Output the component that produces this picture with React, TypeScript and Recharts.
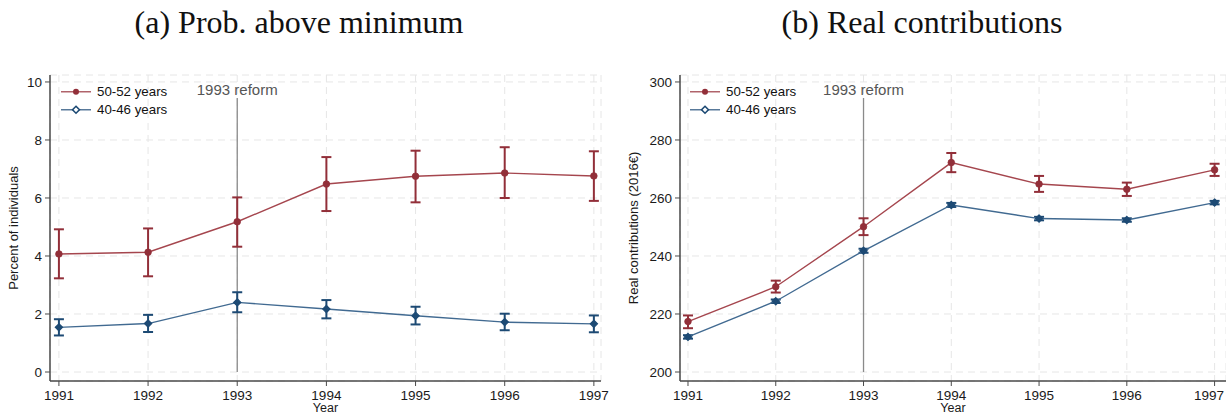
import React from 'react'
import {
  LineChart,
  Line,
  XAxis,
  YAxis,
  CartesianGrid,
  ErrorBar,
  ReferenceLine,
} from 'recharts'

const YEARS = [1991, 1992, 1993, 1994, 1995, 1996, 1997]

// (a) share of individuals contributing above the minimum, %
const PROB_OLD = [4.07, 4.13, 5.18, 6.48, 6.75, 6.86, 6.76]
const PROB_OLD_LO = [3.23, 3.3, 4.32, 5.55, 5.85, 6.0, 5.9]
const PROB_OLD_HI = [4.92, 4.95, 6.02, 7.41, 7.63, 7.75, 7.61]
const PROB_YOUNG = [1.54, 1.67, 2.4, 2.17, 1.94, 1.72, 1.66]
const PROB_YOUNG_LO = [1.26, 1.38, 2.06, 1.85, 1.64, 1.44, 1.37]
const PROB_YOUNG_HI = [1.82, 1.97, 2.75, 2.48, 2.25, 2.01, 1.95]

// (b) real contributions, 2016 euros
const CONTRIB_OLD = [217.4, 229.4, 250.1, 272.2, 264.8, 263.0, 269.7]
const CONTRIB_OLD_LO = [215.1, 227.4, 247.2, 268.9, 262.1, 260.7, 267.6]
const CONTRIB_OLD_HI = [219.5, 231.5, 253.0, 275.5, 267.6, 265.3, 271.8]
const CONTRIB_YOUNG = [212.1, 224.4, 241.8, 257.6, 252.9, 252.4, 258.4]
const CONTRIB_YOUNG_LO = [211.5, 223.8, 241.1, 256.9, 252.3, 251.8, 257.8]
const CONTRIB_YOUNG_HI = [212.7, 225.0, 242.5, 258.3, 253.5, 253.0, 259.0]

const PROB_TICKS = [0, 2, 4, 6, 8, 10]
const CONTRIB_TICKS = [200, 220, 240, 260, 280, 300]

const SERIES_LABELS = ['50-52 years', '40-46 years']

const RED_LINE = '#a5464e'
const RED_MARK = '#922f39'
const BLUE_LINE = '#416a91'
const BLUE_MARK = '#1d4a74'
const AXIS = '#4a4a4a'
const SANS = '"Liberation Sans", Arial, sans-serif'
const CHART_W = 613

function buildRows(
  old: number[], oldLo: number[], oldHi: number[],
  young: number[], youngLo: number[], youngHi: number[],
) {
  return YEARS.map((year, i) => ({
    year,
    old: old[i],
    oldErr: [old[i] - oldLo[i], oldHi[i] - old[i]],
    young: young[i],
    youngErr: [young[i] - youngLo[i], youngHi[i] - young[i]],
  }))
}

const probRows = buildRows(PROB_OLD, PROB_OLD_LO, PROB_OLD_HI, PROB_YOUNG, PROB_YOUNG_LO, PROB_YOUNG_HI)
const contribRows = buildRows(
  CONTRIB_OLD, CONTRIB_OLD_LO, CONTRIB_OLD_HI,
  CONTRIB_YOUNG, CONTRIB_YOUNG_LO, CONTRIB_YOUNG_HI,
)

function Diamond(props: any) {
  const { cx, cy } = props
  if (cx == null || cy == null) return null
  const r = 3.6
  return (
    <polygon
      points={`${cx},${cy - r} ${cx + r},${cy} ${cx},${cy + r} ${cx - r},${cy}`}
      fill={BLUE_MARK}
      stroke={BLUE_MARK}
      strokeWidth={1.2}
    />
  )
}

function Dot(props: any) {
  const { cx, cy } = props
  if (cx == null || cy == null) return null
  return <circle cx={cx} cy={cy} r={3.3} fill={RED_MARK} stroke={RED_MARK} strokeWidth={0.8} />
}

// year labels; the last one is nudged so it stays inside the svg
function YearTick(props: any) {
  const { x, y, payload } = props
  const tx = Math.min(x, CHART_W - 17)
  return (
    <text x={tx} y={y + 11} textAnchor="middle" fontFamily={SANS} fontSize={13.5} fill="#1a1a1a">
      {payload.value}
    </text>
  )
}

// legend drawn in the top-left corner of each plot region
function LegendRows({ left }: { left: number }) {
  const row = (label: string, color: string, mark: React.ReactNode) => (
    <div style={{ display: 'flex', alignItems: 'center', height: 17.5 }}>
      <svg width={37} height={17.5}>
        <line x1={1} x2={31} y1={8.75} y2={8.75} stroke={color} strokeWidth={1.5} />
        {mark}
      </svg>
      <span style={{ fontFamily: SANS, fontSize: 13.3, color: '#111', lineHeight: '17.5px' }}>{label}</span>
    </div>
  )
  return (
    <div style={{ position: 'absolute', left, top: 83 }}>
      {row(SERIES_LABELS[0], '#b0636a', <circle cx={16} cy={8.75} r={3} fill={RED_MARK} />)}
      {row(
        SERIES_LABELS[1],
        '#58799a',
        <polygon points="16,5.3 19.45,8.75 16,12.2 12.55,8.75" fill="#fff" stroke={BLUE_MARK} strokeWidth={1.6} />,
      )}
    </div>
  )
}

interface PanelProps {
  rows: ReturnType<typeof buildRows>
  yDomain: [number, number]
  yTicks: number[]
  xDomain: [number, number]
  yTitle: string
  yAxisWidth: number
  titleX: number
  rightMargin: number
  reformTop: number
}

function Panel({
  rows, yDomain, yTicks, xDomain, yTitle, yAxisWidth, titleX, rightMargin, reformTop,
}: PanelProps) {
  const tickStyle = { fill: '#1a1a1a', fontSize: 13.5, fontFamily: SANS }
  return (
    <LineChart
      width={CHART_W}
      height={415}
      data={rows}
      margin={{ top: 75, right: rightMargin, bottom: 0, left: 0 }}
    >
      <CartesianGrid stroke="#e6e6e6" strokeDasharray="7 5" />
      <XAxis
        dataKey="year"
        type="number"
        domain={xDomain}
        ticks={YEARS}
        allowDataOverflow
        height={34}
        tick={<YearTick />}
        tickSize={5}
        tickMargin={3}
        axisLine={{ stroke: AXIS, strokeWidth: 1.5 }}
        tickLine={{ stroke: AXIS }}
        label={(p: any) => {
          const vb = p.viewBox
          return (
            <text x={vb.x + vb.width / 2} y={412} textAnchor="middle" fontFamily={SANS} fontSize={12.5} fill="#1a1a1a">
              Year
            </text>
          )
        }}
      />
      <YAxis
        type="number"
        domain={yDomain}
        ticks={yTicks}
        allowDataOverflow
        interval={0}
        width={yAxisWidth}
        tick={tickStyle}
        tickSize={5}
        tickMargin={3}
        axisLine={{ stroke: AXIS, strokeWidth: 1.5 }}
        tickLine={{ stroke: AXIS }}
        label={() => {
          const cy = 75 + 306 / 2
          return (
            <text
              x={titleX}
              y={cy}
              transform={`rotate(-90, ${titleX}, ${cy})`}
              textAnchor="middle"
              dominantBaseline="central"
              fontFamily={SANS}
              fontSize={13}
              fill="#1a1a1a"
            >
              {yTitle}
            </text>
          )
        }}
      />
      <ReferenceLine
        segment={[{ x: 1993, y: yTicks[0] }, { x: 1993, y: reformTop }]}
        stroke="#8a8a8a"
        strokeWidth={1.3}
        label={{ value: '1993 reform', position: 'top', offset: 3, fill: '#555', fontSize: 15, fontFamily: SANS }}
      />
      <Line
        dataKey="old"
        name={SERIES_LABELS[0]}
        type="linear"
        stroke={RED_LINE}
        strokeWidth={1.4}
        dot={<Dot />}
        activeDot={false}
        isAnimationActive={false}
      >
        <ErrorBar dataKey="oldErr" width={5} stroke={RED_MARK} strokeWidth={2} direction="y" isAnimationActive={false} />
      </Line>
      <Line
        dataKey="young"
        name={SERIES_LABELS[1]}
        type="linear"
        stroke={BLUE_LINE}
        strokeWidth={1.4}
        dot={<Diamond />}
        activeDot={false}
        isAnimationActive={false}
      >
        <ErrorBar dataKey="youngErr" width={5} stroke={BLUE_MARK} strokeWidth={2} direction="y" isAnimationActive={false} />
      </Line>
    </LineChart>
  )
}

const titleStyle: React.CSSProperties = {
  position: 'absolute',
  top: 3,
  transform: 'translateX(-50%)',
  whiteSpace: 'nowrap',
  fontFamily: '"Liberation Serif", "Times New Roman", serif',
  fontSize: 32,
  lineHeight: '38px',
  color: '#111',
}

export default function App() {
  return (
    <div style={{ position: 'absolute', left: 0, top: 0, width: 1226, height: 415, background: '#fff', overflow: 'hidden' }}>
      <div style={{ ...titleStyle, left: 299 }}>(a) Prob. above minimum</div>
      <div style={{ ...titleStyle, left: 922 }}>(b) Real contributions</div>
      <div style={{ position: 'absolute', left: 0, top: 0 }}>
        <Panel
          rows={probRows}
          yDomain={[-0.31, 10.24]}
          yTicks={PROB_TICKS}
          xDomain={[1990.9, 1997.08]}
          yTitle="Percent of individuals"
          yAxisWidth={50}
          titleX={13}
          rightMargin={12}
          reformTop={9.45}
        />
        <LegendRows left={60} />
      </div>
      <div style={{ position: 'absolute', left: 613, top: 0 }}>
        <Panel
          rows={contribRows}
          yDomain={[196.9, 302.4]}
          yTicks={CONTRIB_TICKS}
          xDomain={[1990.909, 1997.13]}
          yTitle="Real contributions (2016€)"
          yAxisWidth={67}
          titleX={20}
          rightMargin={0}
          reformTop={294.5}
        />
        <LegendRows left={76} />
      </div>
    </div>
  )
}
